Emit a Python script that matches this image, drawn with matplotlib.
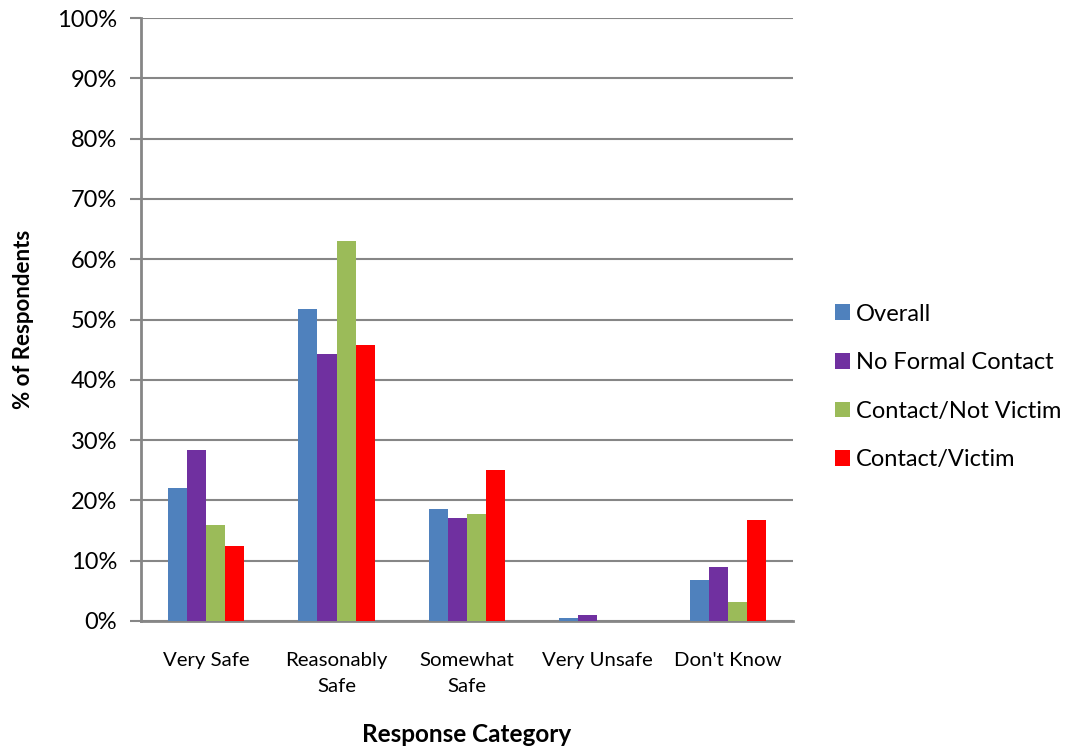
import matplotlib
matplotlib.use("Agg")
import matplotlib.pyplot as plt
import numpy as np
from matplotlib.ticker import PercentFormatter

plt.rcParams['font.family'] = ['Lato', 'DejaVu Sans']

categories = ["Very Safe", "Reasonably\nSafe", "Somewhat\nSafe", "Very Unsafe", "Don't Know"]
series_names = ["Overall", "No Formal Contact", "Contact/Not Victim", "Contact/Victim"]
overall = [22.0, 51.8, 18.5, 0.5, 6.8]
no_formal = [28.3, 44.3, 17.0, 1.0, 9.0]
contact_not_victim = [16.0, 63.0, 17.7, 0.0, 3.2]
contact_victim = [12.5, 45.8, 25.0, 0.0, 16.7]
colors = ["#4F81BD", "#7030A0", "#9BBB59", "#FF0000"]

all_series = [overall, no_formal, contact_not_victim, contact_victim]

fig = plt.figure(figsize=(10.72, 7.54), dpi=100)
ax = fig.add_axes([0.1315, 0.1764, 0.608, 0.7997])

x = np.arange(len(categories))
w = 0.146
for i, (vals, name, c) in enumerate(zip(all_series, series_names, colors)):
    ax.bar(x + (i - 1.5) * w, vals, width=w, color=c, label=name, zorder=3)

ax.set_xlim(-0.5, len(categories) - 0.5)
ax.set_ylim(0, 100)
ax.set_yticks(np.arange(0, 101, 10))
ax.yaxis.set_major_formatter(PercentFormatter(decimals=0))
ax.set_xticks(x)
ax.set_xticklabels(categories, fontsize=14.7, linespacing=1.7)
ax.tick_params(axis='x', length=0, pad=22)
ax.tick_params(axis='y', labelsize=17, length=8, width=1.5, color="#868686", pad=9)
ax.grid(axis='y', color="#868686", linewidth=1.5, zorder=0)

for s in ['top', 'right']:
    ax.spines[s].set_visible(False)
for s in ['left', 'bottom']:
    ax.spines[s].set_color("#868686")
    ax.spines[s].set_linewidth(2)

ax.set_xlabel("Response Category", fontsize=17.5, fontweight='bold', labelpad=20)
ax.set_ylabel("% of Respondents", fontsize=16, fontweight='bold', labelpad=17)

ax.legend(loc='center left', bbox_to_anchor=(1.032, 0.388), frameon=False,
          fontsize=17, handlelength=0.65, handleheight=0.65, handletextpad=0.25,
          labelspacing=1.17)

fig.savefig("out.png", dpi=100)
